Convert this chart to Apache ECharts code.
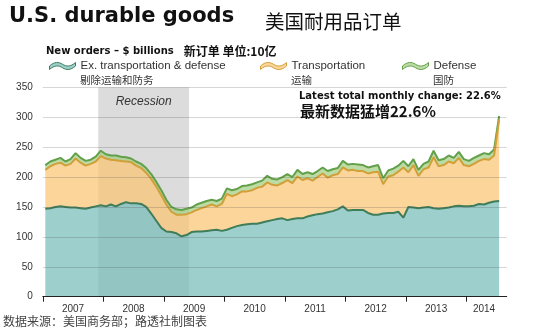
<!DOCTYPE html>
<html><head><meta charset="utf-8">
<script src="https://cdn.jsdelivr.net/npm/echarts@6/dist/echarts.min.js"></script>
<style>html,body{margin:0;padding:0;background:#fff}#c{width:550px;height:332px}</style>
</head><body><div id="c"></div>
<script>
// Monthly data, Jan 2007 .. Jul 2014 ($ billions)
const years = ['2007','2008','2009','2010','2011','2012','2013','2014'];
const lastYearMonths = 7; // Jan..Jul 2014
const axisMonths = 92;    // axis runs a little past the last month
const exTransDef = [147,148,150,151,150,149,149,148,147,149,151,153,
 151,154,151,155,158,156,156,155,150,139,127,115,
 109,108,106,101,103,108,109,109,110,111,112,110,
 112,115,118,120,121,122,122,124,126,128,130,131,
 128,130,131,131,134,136,138,139,141,143,146,151,
 144,145,145,145,140,137,137,139,140,140,142,132,
 150,149,148,149,150,148,147,148,149,151,152,151,
 151,152,155,154,157,159,160];
const transportation = [65,70,72,73,69,73,82,76,72,73,75,82,
 80,75,77,72,68,69,63,60,57,58,57,54,
 45,34,31,36,35,33,36,39,41,43,39,45,
 60,53,53,56,55,56,60,60,65,59,56,59,
 67,60,70,64,64,58,62,67,58,60,59,65,
 67,67,65,65,66,71,72,49,61,63,67,84,
 58,71,54,64,66,85,71,72,77,72,80,69,
 67,70,72,76,72,77,136];
const defense = [8,8,7,8,7,8,9,8,8,7,8,9,
 7,7,8,7,7,6,7,7,8,8,8,9,
 8,8,9,8,9,8,9,9,9,8,9,9,
 9,10,9,9,10,10,9,10,11,10,10,10,
 10,10,11,10,10,11,10,10,11,10,10,11,
 10,10,11,10,10,10,11,10,10,11,10,11,
 10,10,10,9,10,11,10,10,10,9,10,10,
 9,10,9,10,9,10,6];
const seriesNames = ['Ex. transportation & defense','Transportation','Defense'];
const seriesNamesZh = ['剔除运输和防务','运输','国防'];
const recession = {startMonth: 11, endMonth: 29, label: 'Recession'}; // Dec 2007 .. Jun 2009

const fills = ['#77bcb8','#fbc573','#a3cf81'];
const iconFills = ['#9dcfcc','#fdd698','#bddca4'];
const lines = ['#3f7d5b','#d0a03a','#62a04a'];

const months = [];
for (let m = 0; m < axisMonths; m++) months.push(years[0]*1 + Math.floor(m/12) + '-' + (m%12+1));
const tickVals = years.map((y,k)=>k*12);
const labelVals = years.map((y,k)=> k < years.length-1 ? k*12+6 : k*12 + lastYearMonths/2);

const wave = 'path://M0,5 C5,0 9,0 13,3 C17,6 21,6 26,1 L26,5 C21,10 17,10 13,7 C9,4 5,4 0,9 Z';
const legendLeft = [49, 260, 402];
const legendZhLeft = [80, 291, 433];

const sans = 'Liberation Sans';
const chart = echarts.init(document.getElementById('c'));
const dataArrays = [exTransDef, transportation, defense];

chart.setOption({
  animation: false,
  backgroundColor: '#fff',
  title: [
    {text:'U.S. durable goods', left:9, top:6, padding:0,
     textStyle:{fontFamily:'DejaVu Sans', fontWeight:'bold', fontSize:21, color:'#111'}},
    {text:'美国耐用品订单', left:265, top:12, padding:0,
     textStyle:{fontFamily:'Noto Sans CJK SC', fontWeight:'normal', fontSize:19.5, color:'#111'}},
    {text:'{a|New orders – $ billions}  {b|新订单 单位:10亿}', left:46, top:42, padding:0,
     textStyle:{rich:{a:{fontFamily:'DejaVu Sans', fontWeight:'bold', fontSize:10, color:'#111'},
                      b:{fontFamily:'Noto Sans CJK SC', fontWeight:'bold', fontSize:12, color:'#111'}}}},
    ...seriesNamesZh.map((t,k)=>({text:t, left:legendZhLeft[k], top:75, padding:0,
      textStyle:{fontFamily:'Noto Sans CJK SC', fontWeight:'normal', fontSize:10.5, color:'#333'}})),
    {text:'Latest total monthly change: 22.6%', left:299, top:91, padding:0,
     textStyle:{fontFamily:'DejaVu Sans', fontWeight:'bold', fontSize:10, color:'#111'}},
    {text:'最新数据猛增22.6%', left:300, top:104, padding:0,
     textStyle:{fontFamily:'Noto Sans CJK SC', fontWeight:'bold', fontSize:15, color:'#111'}},
    {text:'数据来源：美国商务部；路透社制图表', left:3, top:315, padding:0,
     textStyle:{fontFamily:'Noto Sans CJK SC', fontWeight:'normal', fontSize:12, color:'#444'}}
  ],
  legend: seriesNames.map((n,k)=>({
    data:[n], left:legendLeft[k], top:60, padding:0, selectedMode:false,
    icon: wave, itemWidth:26, itemHeight:7, symbolKeepAspect:false,
    itemStyle:{color:iconFills[k], borderColor:lines[k], borderWidth:1},
    textStyle:{fontFamily:sans, fontSize:11.5, color:'#333'}
  })),
  grid:{left:42.8, right:43.3, top:87.3, bottom:35.3},
  xAxis:[
    {type:'category', data:months, boundaryGap:true, show:false},
    {type:'value', min:0, max:axisMonths, z:5, position:'bottom',
     axisLine:{onZero:false, lineStyle:{color:'#222', width:1}},
     axisTick:{show:true, customValues:tickVals, length:5, lineStyle:{color:'#222'}},
     axisLabel:{customValues:labelVals, formatter:v=>years[Math.floor(v/12)],
       fontFamily:sans, fontSize:10, color:'#333', margin:8},
     splitLine:{show:false}}
  ],
  yAxis:{type:'value', min:0, max:350, interval:50, z:5,
    axisLine:{show:false}, axisTick:{show:false},
    axisLabel:{fontFamily:sans, fontSize:10, color:'#333', margin:10},
    splitLine:{lineStyle:{color:'rgba(70,70,70,0.22)', width:1}}},
  series: [
    ...seriesNames.map((n,k)=>({
      name:n, type:'line', stack:'total', z:4-k, symbol:'none', xAxisIndex:0,
      data: dataArrays[k],
      lineStyle:{color:lines[k], width:2},
      itemStyle:{color:iconFills[k]},
      areaStyle:{color:fills[k], opacity:0.72}
    })),
    {type:'line', data:[], z:1, silent:true, xAxisIndex:1,
     markArea:{silent:true, z:1,
       itemStyle:{color:'#dcdcdc'},
       label:{show:true, position:'insideTop', distance:8, fontFamily:sans, fontStyle:'italic', fontSize:12, color:'#333'},
       data:[[{xAxis:recession.startMonth, name:recession.label},{xAxis:recession.endMonth}]]}}
  ]
});
</script></body></html>
